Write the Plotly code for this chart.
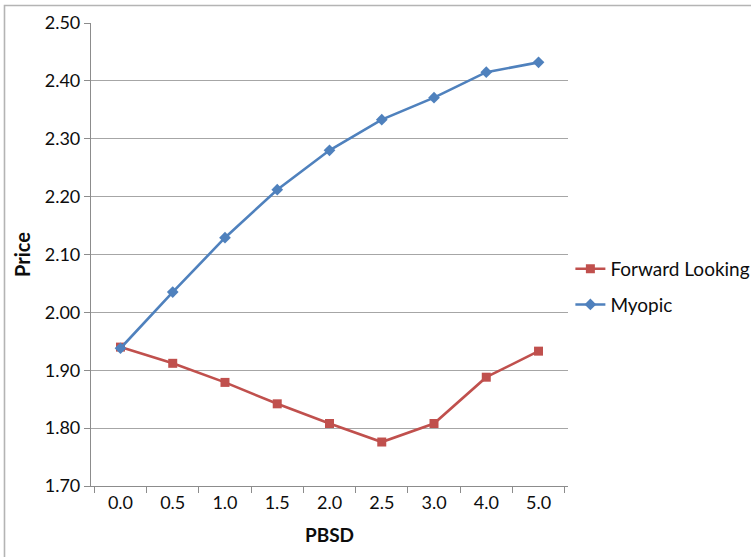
import plotly.graph_objects as go

# PBSD categories (3.5 is not part of the series)
pbsd = ["0.0", "0.5", "1.0", "1.5", "2.0", "2.5", "3.0", "4.0", "5.0"]

# Price under each behaviour model
forward_looking = [1.940, 1.912, 1.879, 1.842, 1.808, 1.776, 1.808, 1.888, 1.933]
myopic = [1.938, 2.035, 2.129, 2.212, 2.280, 2.333, 2.371, 2.415, 2.432]

y_ticks = [1.70, 1.80, 1.90, 2.00, 2.10, 2.20, 2.30, 2.40, 2.50]

RED = "#C0504D"
BLUE = "#4F81BD"
FONT = "Lato"
TEXT = "#0d0d0d"

W, H = 751, 557
ML, MR, MT, MB = 91, 183, 23, 71

fig = go.Figure()
fig.add_trace(go.Scatter(
    x=pbsd, y=forward_looking, name="Forward Looking", mode="lines+markers",
    line=dict(color=RED, width=2.6),
    marker=dict(symbol="square", size=9, color=RED),
    legendgroup="fl",
))
fig.add_trace(go.Scatter(
    x=pbsd, y=myopic, name="Myopic", mode="lines+markers",
    line=dict(color=BLUE, width=2.6),
    marker=dict(symbol="diamond", size=9, color=BLUE),
    legendgroup="my",
))

# light frame around the chart area (only top and left edges fall inside the page)
pw, ph = W - ML - MR, H - MT - MB
fig.add_shape(
    type="rect", xref="paper", yref="paper",
    x0=(4.5 - ML) / pw, x1=(W + 20 - ML) / pw,
    y0=-(H + 20 - MT - ph) / ph, y1=(H - MB - 5.5) / ph,
    line=dict(color="#b4b4b4", width=1.6), fillcolor="rgba(0,0,0,0)",
    layer="below",
)

fig.update_layout(
    width=W, height=H,
    margin=dict(l=ML, r=MR, t=MT, b=MB, autoexpand=False),
    paper_bgcolor="white", plot_bgcolor="white",
    font=dict(family=FONT, size=18, color=TEXT),
    showlegend=True,
    legend=dict(
        x=1.005, xanchor="left", y=0.43, yanchor="middle",
        font=dict(family=FONT, size=19, color=TEXT),
        tracegroupgap=8, itemwidth=30,
        bgcolor="rgba(0,0,0,0)",
    ),
    xaxis=dict(
        type="category", categoryorder="array", categoryarray=pbsd,
        title=dict(text="<b>PBSD</b>", font=dict(family=FONT, size=19, color=TEXT), standoff=16),
        showline=True, linecolor="#8c8c8c", linewidth=1.2,
        ticks="outside", tickson="boundaries", ticklen=6, tickcolor="#8c8c8c",
        showgrid=False, zeroline=False,
        tickfont=dict(family=FONT, size=18, color=TEXT),
    ),
    yaxis=dict(
        range=[1.70, 2.50], tickvals=y_ticks, tickformat=".2f",
        title=dict(text="<b>Price</b>", font=dict(family=FONT, size=20, color=TEXT), standoff=8),
        showline=True, linecolor="#8c8c8c", linewidth=1.2,
        ticks="outside", ticklen=6, tickcolor="#8c8c8c",
        showgrid=True, gridcolor="#a6a6a6", gridwidth=1.2,
        zeroline=False,
        tickfont=dict(family=FONT, size=18, color=TEXT),
    ),
)

fig.write_html("out.html")
